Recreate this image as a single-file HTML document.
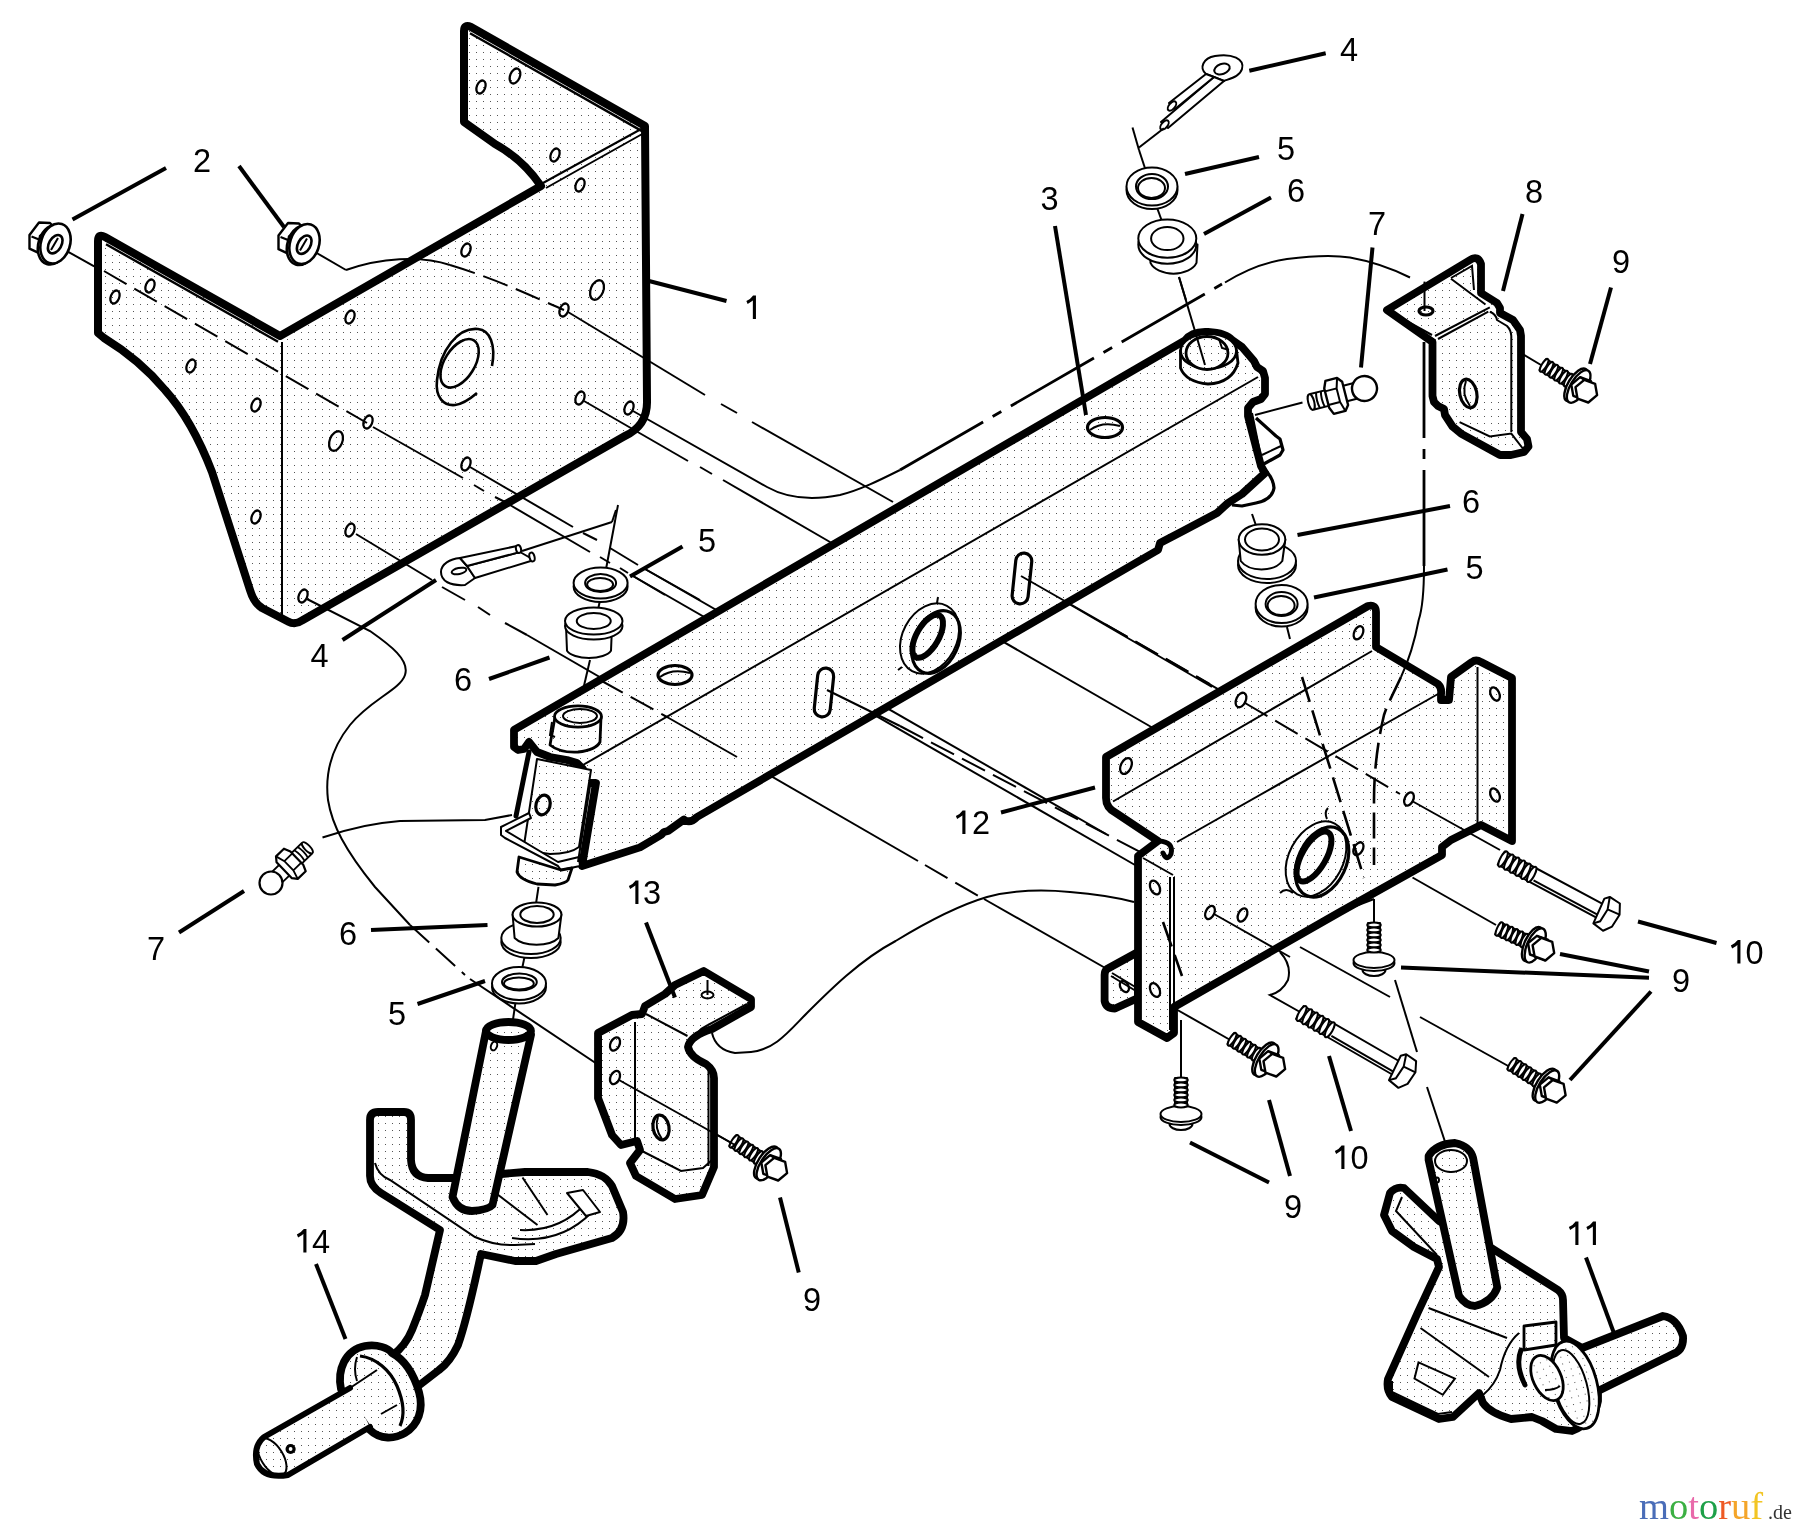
<!DOCTYPE html><html><head><meta charset="utf-8"><style>
*{margin:0;padding:0}
html,body{width:1800px;height:1534px;overflow:hidden;background:#fff}
svg{display:block;will-change:transform}
.K{fill:url(#d);stroke:#000;stroke-width:7.8;stroke-linejoin:round;stroke-linecap:round}
.K1{fill:url(#d);stroke:#000;stroke-width:8;stroke-linejoin:round;stroke-linecap:round}
.Kb{fill:url(#d2);stroke:#000;stroke-width:7.8;stroke-linejoin:round;stroke-linecap:round}
.Kc{fill:url(#d3);stroke:#000;stroke-width:7.8;stroke-linejoin:round;stroke-linecap:round}
.Kw{fill:#fff;stroke:#000;stroke-width:6;stroke-linejoin:round;stroke-linecap:round}
.Kn{fill:none;stroke:#000;stroke-width:6;stroke-linejoin:round;stroke-linecap:round}
.L{fill:none;stroke:#000;stroke-width:4}
.G1{fill:none;stroke:#000;stroke-width:3.1}
.T{fill:none;stroke:#000;stroke-width:2}
.T2{fill:none;stroke:#000;stroke-width:2.6}
.T3{fill:none;stroke:#000;stroke-width:3.2;stroke-linejoin:round}
.Tf3{fill:url(#d);stroke:#000;stroke-width:2.8;stroke-linejoin:round}
.R{fill:none;stroke:#000;stroke-width:6}
.K2{fill:none;stroke:#000;stroke-width:5;stroke-linecap:round}
.H{fill:none;stroke:#000;stroke-width:2.3}
.Tf{fill:url(#d);stroke:#000;stroke-width:2;stroke-linejoin:round}
.W{fill:#fff;stroke:#000;stroke-width:2;stroke-linejoin:round}
.D{fill:none;stroke:#000;stroke-width:2;stroke-dasharray:26 9}
.C{fill:none;stroke:#000;stroke-width:2.8;stroke-dasharray:96 11 10 11}
.C2{fill:none;stroke:#000;stroke-width:2.6;stroke-dasharray:26 9}
text{font-family:"Liberation Sans",sans-serif;font-size:32.5px;fill:#000}
</style></head><body><svg xmlns="http://www.w3.org/2000/svg" width="1800" height="1534" viewBox="0 0 1800 1534">
<defs><pattern id="d" width="7" height="7" patternUnits="userSpaceOnUse"><rect width="7" height="7" fill="#fff"/><rect x="0" y="3" width="1" height="1" fill="#555"/></pattern><pattern id="d2" width="7" height="7" patternUnits="userSpaceOnUse"><rect width="7" height="7" fill="#fff"/><rect x="6" y="2" width="1" height="1" fill="#555"/></pattern><pattern id="d3" width="7" height="7" patternUnits="userSpaceOnUse"><rect width="7" height="7" fill="#fff"/><rect x="5" y="1" width="1" height="1" fill="#555"/></pattern></defs>
<path class="K1" d="M98,333 L98,241 Q98,233 105,237 L280,336 L541,186 C530,170 515,155 495,144 L464,122 L464,31 Q464,24 471,27 L645,126 L647,400 Q648,426 624,436.5 L302,620.5 Q295,625.5 288,621.5 L262,608 Q254,603 250,590 L212,472 Q192,420 165,390 Q140,360 104,338 Z"/>
<line class="T" x1="282" y1="342" x2="282" y2="617"/>
<line class="T" x1="543" y1="183" x2="643" y2="128"/>
<line class="T" x1="546" y1="188" x2="644" y2="133"/>
<path class="T" style="stroke-width:2.4" d="M106,244.2 L278,341.7 M470,33.2 L642,131.1"/>
<ellipse class="H" cx="115" cy="297" rx="4.2" ry="6.8" transform="rotate(22 115 297)"/>
<ellipse class="H" cx="150" cy="286" rx="4.2" ry="6.8" transform="rotate(22 150 286)"/>
<ellipse class="H" cx="191" cy="366" rx="4.2" ry="6.8" transform="rotate(22 191 366)"/>
<ellipse class="H" cx="256" cy="405" rx="4.2" ry="6.8" transform="rotate(22 256 405)"/>
<ellipse class="H" cx="256" cy="517" rx="4.2" ry="6.8" transform="rotate(22 256 517)"/>
<ellipse class="H" cx="481" cy="87" rx="4.2" ry="6.8" transform="rotate(22 481 87)"/>
<ellipse class="H" cx="515" cy="76" rx="4.83" ry="7.819999999999999" transform="rotate(22 515 76)"/>
<ellipse class="H" cx="555" cy="155" rx="4.2" ry="6.8" transform="rotate(22 555 155)"/>
<ellipse class="H" cx="350" cy="317" rx="4.2" ry="6.8" transform="rotate(22 350 317)"/>
<ellipse class="H" cx="580" cy="185" rx="4.2" ry="6.8" transform="rotate(22 580 185)"/>
<ellipse class="H" cx="466" cy="250" rx="4.2" ry="6.8" transform="rotate(22 466 250)"/>
<ellipse class="H" cx="597" cy="290" rx="6.300000000000001" ry="10.2" transform="rotate(22 597 290)"/>
<ellipse class="H" cx="564" cy="310" rx="4.2" ry="6.8" transform="rotate(22 564 310)"/>
<ellipse class="H" cx="368" cy="422" rx="4.2" ry="6.8" transform="rotate(22 368 422)"/>
<ellipse class="H" cx="336" cy="441" rx="6.300000000000001" ry="10.2" transform="rotate(22 336 441)"/>
<ellipse class="H" cx="350" cy="530" rx="4.2" ry="6.8" transform="rotate(22 350 530)"/>
<ellipse class="H" cx="303" cy="596" rx="4.2" ry="6.8" transform="rotate(22 303 596)"/>
<ellipse class="H" cx="580" cy="398" rx="4.2" ry="6.8" transform="rotate(22 580 398)"/>
<ellipse class="H" cx="629" cy="408" rx="4.2" ry="6.8" transform="rotate(22 629 408)"/>
<ellipse class="H" cx="466" cy="464" rx="4.2" ry="6.8" transform="rotate(22 466 464)"/>
<ellipse class="T2" cx="459.6" cy="363.3" rx="27" ry="15" transform="rotate(-58 459.6 363.3)"/>
<path class="T2" d="M492,366 C496,345 490,330 478,329 C458,327 440,350 437,380 C435,398 444,406 455,405 C463,404 470,399 477,393"/>
<line class="T" x1="66.9" y1="251.1" x2="94.2" y2="266.4"/>
<path class="D" d="M104,271 L367,423"/>
<line class="T" x1="315" y1="252" x2="346" y2="270"/>
<path class="T" d="M346,270 C380,258 420,255 450,265"/>
<path class="D" d="M450,265 C500,280 540,300 564,310"/>
<g transform="translate(0,0)"><path class="W" d="M39,222.5 L50,223 L53,226 L40,236 L38,252.6 L29.5,248.7 L29.5,235 Z" style="stroke-width:2.4"/><path class="T" d="M31.5,236.5 L39.6,239.7 L37.5,252"/><ellipse class="W" cx="53" cy="244.5" rx="14.5" ry="20.5" transform="rotate(18 53 244.5)" style="stroke-width:2.6"/><ellipse class="W" cx="55.5" cy="243.5" rx="14.5" ry="20.5" transform="rotate(18 55.5 243.5)" style="stroke-width:2.6"/><ellipse class="W" cx="55.2" cy="244.2" rx="6.2" ry="10" transform="rotate(30 55.2 244.2)" style="stroke-width:2.6"/><path class="T" d="M51,250 L58,238"/></g>
<g transform="translate(249,0.5)"><path class="W" d="M39,222.5 L50,223 L53,226 L40,236 L38,252.6 L29.5,248.7 L29.5,235 Z" style="stroke-width:2.4"/><path class="T" d="M31.5,236.5 L39.6,239.7 L37.5,252"/><ellipse class="W" cx="53" cy="244.5" rx="14.5" ry="20.5" transform="rotate(18 53 244.5)" style="stroke-width:2.6"/><ellipse class="W" cx="55.5" cy="243.5" rx="14.5" ry="20.5" transform="rotate(18 55.5 243.5)" style="stroke-width:2.6"/><ellipse class="W" cx="55.2" cy="244.2" rx="6.2" ry="10" transform="rotate(30 55.2 244.2)" style="stroke-width:2.6"/><path class="T" d="M51,250 L58,238"/></g>
<path class="T" d="M633,576 L1135,865"/>
<path class="T" d="M645,569 L1106,834"/>
<path class="T" d="M527,635 L918,861"/>
<path class="D" d="M925,865 L982,898"/>
<path class="T" d="M984,899 L1107,969"/>
<path class="T" d="M830,542 L1153,728"/>
<path class="T" d="M1064,601 L1212,687"/>
<path class="D" d="M900,726 L1140,852"/>
<path class="T" d="M712,1033 Q716,1050 735,1053 L751,1052 C775,1050 790,1030 807,1013 C830,990 860,960 895.6,941 C930,920 960,905 987,897 C1010,891 1040,889 1070,892 C1095,894 1115,897 1134,902"/>
<path class="T" d="M1300,947 L1390,997"/>
<path class="T" d="M1420,1017 L1510,1067"/>
<path class="T" d="M1395,980 L1417,1052"/>
<path class="T" d="M1427,1087 L1450,1157"/>
<path class="T" d="M307,599 L370,631 C390,645 410,660 405,675 C400,690 370,700 350,725 C330,750 325,775 328,800 C332,825 345,850 375,887 L410,925"/>
<path class="D" d="M410,925 L465,975"/>
<path class="T" d="M470,979 L612,1074"/>
<path class="T" d="M633,411 L767,487 C790,500 815,500 840,495 C860,490 880,480 900,470"/>
<path class="C" d="M900,470 L1222,284"/>
<path class="T" d="M1225,282.5 C1245,270 1265,262 1287,259 C1310,256 1335,255 1350,257.5 C1375,262 1395,270 1410,277.5"/>
<path class="T" d="M568,312 L705,395"/>
<path class="T" d="M721,404 L737,413"/>
<path class="T" d="M752,422 L893,502"/>
<path class="T" d="M584,401 L688,461"/>
<path class="T" d="M700,467 L712,474"/>
<path class="T" d="M723,480 L830,542"/>
<path class="T" d="M373,427 L463,478"/>
<path class="T" d="M474,485 L484,491"/>
<path class="T" d="M495,497 L507,503"/>
<path class="T" d="M510,505 L590,552"/>
<path class="T" d="M600,557 L610,563"/>
<path class="T" d="M620,568 L628,573"/>
<path class="T" d="M633,576 L665,595"/>
<path class="T" d="M470,467 L573,527"/>
<path class="T" d="M583,533 L597,540"/>
<path class="T" d="M610,548 L638,565"/>
<path class="T" d="M645,569 L700,600"/>
<path class="T" d="M356,534 L432,580"/>
<path class="T" d="M442,587 L465,600"/>
<path class="T" d="M478,607 L490,615"/>
<path class="T" d="M505,623 L527,635"/>
<path class="Kb" d="M514,729.8 L1185,340.4 Q1192,331 1208,332 Q1226,333 1232,340 L1242,347 L1254,361 L1257,367 L1263,371 L1265,378 L1265,394 L1261,399 L1253,402 L1248,408 L1248,416 L1250,424 L1261,466 L1265,473 L1242,494 L1228,503 L1217,513 L1183,531 L1160,543 L1158,550 L697,817 Q690,824 684,819.5 L668,831 L664,832 L661,835 L640,847.4 L582,866 L596,783 L587,783 L583,780 L583,769 L577,763 L567,760 L550,757 L537,752 L529,742 L524,749 L518,750 L514,747 Z"/>
<line class="T" x1="583" y1="765" x2="1258" y2="377"/>
<line class="T" x1="1252" y1="413" x2="1262" y2="462"/>
<path class="T3" d="M1262,467 Q1273,476 1274,488 Q1272,500 1256,503 L1242,506 L1232,505"/>
<path class="T3" d="M1256,418 L1276,436 L1280,439 L1283,450 L1280,455 L1262,465"/>
<path class="T" d="M1262,455 L1281,446"/>
<path class="Tf3" d="M1180.5,351 L1180.5,368 Q1186,382 1208,384 Q1232,383 1238,363 L1236.6,351 Z"/>
<ellipse class="Tf3" cx="1208.5" cy="351" rx="28" ry="17.5"/>
<ellipse class="Tf3" cx="1207" cy="353" rx="21" ry="16.5"/>
<path class="T" d="M1219,339 L1222,348 L1229,350"/>
<ellipse class="T3" cx="675" cy="675" rx="17" ry="9.5"/>
<path class="T" d="M660,677 Q672,668 690,673"/>
<ellipse class="T3" cx="1105" cy="427.5" rx="17.5" ry="10"/>
<path class="T" d="M1090,430 Q1102,421 1120,426"/>
<rect class="T3" x="816" y="668" width="16" height="49" rx="8" transform="rotate(6 824 692)" style="fill:none"/>
<rect class="T3" x="1014" y="553" width="16" height="51" rx="8" transform="rotate(6 1022 578)" style="fill:none"/>
<ellipse class="T" cx="929.5" cy="638.5" rx="27" ry="37" transform="rotate(28 929.5 638.5)"/>
<ellipse class="T3" cx="936" cy="642" rx="22" ry="33" transform="rotate(25 936 642)"/>
<ellipse class="R" cx="927.7" cy="636.3" rx="11" ry="24" transform="rotate(30 927.7 636.3)"/>
<path class="T" d="M937,603 L938,597"/>
<path class="T" d="M902,667 L898,670"/>
<path class="T" d="M1021,576 L1105,624"/>
<path class="D" d="M1105,624 L1210,684"/>
<path class="T" d="M827,690 L900,726"/>
<path class="Tf" d="M537,759 L524.5,842 Q532,852 550,854 Q570,854 579,847 L591,770 Z"/>
<path class="K2" d="M529,752 L516,816"/>
<path class="W" d="M501,827 L529,813 L531,818 L506,831 L558,862 L579,857 L580,866 L561,870 L558,866 L505,838 L501,835 Z"/>
<path class="Tf3" d="M519,857 L517,872 Q520,880 537,884 L555,885 Q566,883 568,880 L572,868 L561,870 Z"/>
<ellipse class="T3" cx="543" cy="805" rx="7" ry="10" transform="rotate(15 543 805)"/>
<line class="T" x1="590" y1="786" x2="578" y2="862"/>
<path class="Tf3" d="M555,717 L550,745 Q560,753 578,752 Q596,750 600,742 L601,717 Z"/>
<ellipse class="Tf3" cx="578" cy="716.5" rx="23.5" ry="10.7"/>
<ellipse class="T" cx="580" cy="716" rx="17" ry="7"/>
<path class="T" d="M552,722 L550,735 L555,737"/>
<path class="D" d="M600,680 L667,717"/>
<path class="T" d="M667,717 L737,757"/>
<line class="T" x1="1179" y1="277" x2="1205" y2="365"/>
<path class="D" d="M1105,624 L1280,725"/>
<path class="K" d="M1138,952 L1107,969 Q1104.6,971 1104.6,975 L1104.6,1001 Q1106,1008.5 1115,1008.5 L1138,998 Z"/>
<line class="T" x1="1112" y1="973" x2="1137" y2="988"/>
<line class="T" x1="1111" y1="976" x2="1136" y2="991"/>
<ellipse class="H" cx="1124.4" cy="986.5" rx="4" ry="6" transform="rotate(-30 1124.4 986.5)"/>
<path class="Kc" d="M1106,757 L1368,606 Q1376,604 1376,612 L1376,647 L1438,684 Q1442,688 1441,694 L1441,700 L1449,700 L1451,677 L1472,662 Q1476,659 1481,662 L1512,678 L1512,841 L1481,825 L1451,840 L1442,847 L1442,855 L1340,912 L1174,1007 L1174,1033 L1167,1038 L1138,1022 L1138,856 L1158,841 L1116,813 Q1106,808 1106,798 Z"/>
<line class="T" x1="1113" y1="801.5" x2="1372" y2="651"/>
<line class="T" x1="1177" y1="842" x2="1438" y2="694"/>
<line class="T" x1="1477.5" y1="667" x2="1477.5" y2="824"/>
<line class="T" x1="1143" y1="858" x2="1173" y2="875"/>
<line class="T" x1="1170" y1="877" x2="1170" y2="1030"/>
<line class="T" x1="1174" y1="877" x2="1174" y2="1007"/>
<path class="K2" d="M1159,841 Q1174,842 1171,854 Q1167,862 1163,853"/>
<ellipse class="H" cx="1126" cy="766" rx="5.159999999999999" ry="8.4" transform="rotate(25 1126 766)"/>
<ellipse class="H" cx="1241" cy="700" rx="4.73" ry="7.700000000000001" transform="rotate(25 1241 700)"/>
<ellipse class="H" cx="1155" cy="887.5" rx="4.515" ry="7.3500000000000005" transform="rotate(-25 1155 887.5)"/>
<ellipse class="H" cx="1155" cy="990" rx="4.515" ry="7.3500000000000005" transform="rotate(-25 1155 990)"/>
<ellipse class="H" cx="1210" cy="912.5" rx="4.3" ry="7" transform="rotate(25 1210 912.5)"/>
<ellipse class="H" cx="1242.5" cy="915" rx="4.3" ry="7" transform="rotate(25 1242.5 915)"/>
<ellipse class="H" cx="1495" cy="694" rx="4.3" ry="7" transform="rotate(-25 1495 694)"/>
<ellipse class="H" cx="1495" cy="795" rx="4.3" ry="7" transform="rotate(-25 1495 795)"/>
<ellipse class="H" cx="1409" cy="799" rx="4.3" ry="7" transform="rotate(25 1409 799)"/>
<ellipse class="H" cx="1358.5" cy="632.8" rx="4.3" ry="7" transform="rotate(25 1358.5 632.8)"/>
<ellipse class="H" cx="1358.4" cy="848.7" rx="4.3" ry="7" transform="rotate(30 1358.4 848.7)"/>
<ellipse class="T" cx="1316" cy="859" rx="27" ry="40" transform="rotate(28 1316 859)"/>
<ellipse class="T3" cx="1322" cy="862" rx="24" ry="37" transform="rotate(25 1322 862)"/>
<ellipse class="R" cx="1314" cy="856.5" rx="12" ry="28" transform="rotate(30 1314 856.5)"/>
<path class="T" d="M1327,819 Q1324,812 1328,808"/>
<path class="T" d="M1280,893 Q1286,887 1293,893"/>
<path class="C2" d="M1302,677 L1364,878"/>
<path class="C" d="M1424,342 L1424,566"/>
<path class="T" d="M1424,566 C1424,595 1422,610 1418.7,620 C1414,645 1408,662 1401,677"/>
<path class="C2" d="M1401,677 C1395,690 1388,703 1384,715 C1378,740 1374,770 1374,800 L1374,865"/>
<line class="T" x1="1412" y1="801" x2="1500" y2="850"/>
<path class="T" d="M1340,912 L1374,899"/>
<path class="T" d="M1214,914 L1290,957"/>
<path class="C2" d="M1163,922 L1182,976"/>
<path class="D" d="M1245,703 L1400,794"/>
<line class="T" x1="1412.5" y1="877.5" x2="1496" y2="925"/>
<path class="K" d="M1387,310 L1470,260 Q1478,255 1481,264 L1481,293 L1497,303 L1500,308 L1500,313 L1513,320 L1520,330 L1521,336 L1521,432 L1527,439 L1528.5,446.6 L1524,452 L1511,455 L1500,455 L1461,433.6 L1452.5,426.5 L1445,415 L1444,409 L1438,406 L1434,402 L1432.5,396 L1432.5,342 Z"/>
<line class="T" x1="1435" y1="336" x2="1489.8" y2="307.4"/>
<line class="T" x1="1438" y1="339" x2="1488.3" y2="311.7"/>
<line class="T" x1="1393.7" y1="314" x2="1432" y2="335"/>
<path class="T" d="M1451,278.7 L1485.5,304.5"/>
<path class="T" d="M1451,278 L1472,266 L1474,290"/>
<path class="T" d="M1489.8,311.7 Q1496,314 1497,320 L1507,326 Q1511,330 1511.3,336 L1511.3,432"/>
<path class="T" d="M1459.6,422.2 L1489.8,436.5 L1511.3,433.6 L1524,450"/>
<ellipse class="T3" cx="1468.3" cy="393.5" rx="8.5" ry="14.5" transform="rotate(-12 1468.3 393.5)"/>
<path class="T" d="M1466,381 Q1461,394 1470,406"/>
<ellipse class="T3" cx="1426" cy="311" rx="7" ry="4"/>
<line class="T" x1="1424.5" y1="281.6" x2="1424.5" y2="311"/>
<line class="T" x1="1139" y1="150" x2="1151" y2="186.5"/>
<line class="T" x1="1157.5" y1="209" x2="1171" y2="246"/>
<line class="T" x1="1179" y1="277" x2="1186" y2="300"/>
<line class="T" x1="618" y1="505" x2="604" y2="580"/>
<line class="T" x1="600" y1="600" x2="596" y2="620"/>
<line class="T" x1="590" y1="660" x2="583" y2="690"/>
<line class="T" x1="1252" y1="514" x2="1261" y2="540"/>
<line class="T" x1="1287" y1="627" x2="1290" y2="639"/>
<line class="T" x1="538.5" y1="886.8" x2="534" y2="917"/>
<line class="T" x1="525" y1="954.6" x2="521.5" y2="971.5"/>
<line class="T" x1="519.8" y1="973.2" x2="510" y2="1040"/>
<ellipse class="W" cx="1152" cy="190.0" rx="25.5" ry="19"/>
<ellipse class="W" cx="1152" cy="186.5" rx="25.5" ry="19"/>
<ellipse class="W" cx="1152" cy="186.5" rx="16" ry="12.5"/>
<ellipse class="T" cx="1151.5" cy="188.0" rx="13.5" ry="10.0"/>
<path class="W" d="M1149.5,244.6 L1150.5,262.9048275862069 A24,15.095172413793101 0 0 0 1196.5,262.9048275862069 L1197.5,244.6 Z"/>
<ellipse class="W" cx="1167.3" cy="244.6" rx="29" ry="19.2"/>
<ellipse class="W" cx="1167.3" cy="238.6" rx="29" ry="19.2"/>
<ellipse class="W" cx="1167.3" cy="238.6" rx="16.2" ry="11.5"/>
<ellipse class="W" cx="600.6" cy="586.5" rx="27" ry="15.5"/>
<ellipse class="W" cx="600.6" cy="583" rx="27" ry="15.5"/>
<ellipse class="W" cx="600.6" cy="583" rx="15.5" ry="9"/>
<ellipse class="T" cx="600.1" cy="584.5" rx="13.0" ry="6.5"/>
<path class="W" d="M566,626 L567,650.74 A23,10.26 0 0 0 611,650.74 L612,626 Z"/>
<ellipse class="W" cx="593.75" cy="626" rx="28.75" ry="13.5"/>
<ellipse class="W" cx="593.75" cy="621" rx="28.75" ry="13.5"/>
<ellipse class="W" cx="593.75" cy="621" rx="17" ry="8"/>
<ellipse class="W" cx="1267" cy="565" rx="29" ry="18"/>
<ellipse class="W" cx="1267" cy="561" rx="29" ry="18"/>
<path class="W" d="M1238.7,539.5 L1240.7,561 A23.3,15.3 0 0 0 1282.3,561 L1285.3,539.5 Z"/>
<ellipse class="W" cx="1262" cy="539.5" rx="23.3" ry="15.3"/>
<ellipse class="W" cx="1262" cy="539.5" rx="17" ry="11"/>
<ellipse class="W" cx="1281.6" cy="607.5" rx="26" ry="19"/>
<ellipse class="W" cx="1281.6" cy="604" rx="26" ry="19"/>
<ellipse class="W" cx="1281.6" cy="604" rx="16" ry="12"/>
<ellipse class="T" cx="1281.1" cy="605.5" rx="13.5" ry="9.5"/>
<ellipse class="W" cx="531" cy="942" rx="29.7" ry="16"/>
<ellipse class="W" cx="531" cy="938" rx="29.7" ry="16"/>
<path class="W" d="M512.6,914.5 L514.6,938 A24.4,12 0 0 0 558.4,938 L561.4,914.5 Z"/>
<ellipse class="W" cx="537" cy="914.5" rx="24.4" ry="12"/>
<ellipse class="W" cx="537" cy="914.5" rx="16.7" ry="8.5"/>
<ellipse class="W" cx="519" cy="987.0" rx="27" ry="16.5"/>
<ellipse class="W" cx="519" cy="983.5" rx="27" ry="16.5"/>
<ellipse class="W" cx="519.4" cy="982" rx="17.4" ry="8.5"/>
<ellipse class="T" cx="518.9" cy="983.5" rx="14.899999999999999" ry="6.0"/>
<path class="W" d="M1206,74 C1199,68 1203,58 1215,56 C1232,53 1245,59 1242,69 C1240,76 1232,78 1224,81 L1214,77 Z"/>
<ellipse class="T" cx="1222" cy="69" rx="8" ry="5" transform="rotate(-20 1222 69)"/>
<polygon class="W" points="1214,77 1224,81 1168,128 1161,122"/>
<polygon class="W" points="1206,74 1214,77 1175,109 1169,103"/>
<ellipse class="W" cx="1172" cy="106" rx="3" ry="5.5" transform="rotate(40 1172 106)"/>
<ellipse class="W" cx="1164.5" cy="125" rx="3" ry="5.5" transform="rotate(40 1164.5 125)"/>
<line class="T" x1="1163.9" y1="128.3" x2="1139" y2="147.5"/>
<line class="T" x1="1132.5" y1="127.5" x2="1139" y2="150"/>
<path class="W" d="M460,558 C450,559 441,564 441,572 C441,581 450,586 465,585 L475,578 L467,566 Z"/>
<ellipse class="T" cx="459" cy="571" rx="7.5" ry="3" transform="rotate(-12 459 571)"/>
<polygon class="W" points="467,566 520,552 534,560 475,578"/>
<polygon class="W" points="460,558 517,546 520,552 467,566"/>
<ellipse class="W" cx="518.5" cy="549" rx="2.5" ry="4" transform="rotate(-15 518.5 549)"/>
<ellipse class="W" cx="532" cy="557" rx="2.5" ry="4.5" transform="rotate(-15 532 557)"/>
<line class="T" x1="522" y1="551" x2="612" y2="522"/>
<line class="T" x1="612" y1="522" x2="616" y2="510"/>
<line class="T" x1="1255" y1="415" x2="1302.5" y2="402.5"/>
<g transform="translate(1364.5,388.5) rotate(165.7) scale(1.0)"><path class="W" d="M38,-8 L54,-8 L54,8 L38,8 Z"/><ellipse class="W" cx="55" cy="0" rx="3" ry="8"/><path class="T" d="M43,-8 Q45,0 43,8 M48,-8 Q50,0 48,8"/><path class="W" d="M6,-8 L22,-8 L22,8 L6,8 Z"/><path class="W" d="M20,-12 L24,-17 L36,-17 L39,-10 L39,10 L36,17 L24,17 L20,12 Z" style="stroke-width:2.4"/><path class="T" d="M24,-17 L27,-7 L27,7 L24,17 M27,-7 L39,-7 M27,7 L39,7"/><circle class="W" cx="0" cy="0" r="12.5" style="stroke-width:2.4"/></g>
<g transform="translate(271,883) rotate(-44) scale(0.92)"><path class="W" d="M38,-8 L54,-8 L54,8 L38,8 Z"/><ellipse class="W" cx="55" cy="0" rx="3" ry="8"/><path class="T" d="M43,-8 Q45,0 43,8 M48,-8 Q50,0 48,8"/><path class="W" d="M6,-8 L22,-8 L22,8 L6,8 Z"/><path class="W" d="M20,-12 L24,-17 L36,-17 L39,-10 L39,10 L36,17 L24,17 L20,12 Z" style="stroke-width:2.4"/><path class="T" d="M24,-17 L27,-7 L27,7 L24,17 M27,-7 L39,-7 M27,7 L39,7"/><circle class="W" cx="0" cy="0" r="12.5" style="stroke-width:2.4"/></g>
<path class="T" d="M322.5,837.5 C345,830 370,823 400,821 L485,820 L512,815"/>
<line class="T" x1="1522.5" y1="354" x2="1546" y2="368"/>
<line class="T" x1="735" y1="1145" x2="700" y2="1125"/>
<line class="T" x1="1374" y1="899" x2="1374" y2="925"/>
<line class="T" x1="1181" y1="1020" x2="1181" y2="1077"/>
<line class="T" x1="1174" y1="1008" x2="1232" y2="1041"/>
<path class="T" d="M1280,952 Q1292,965 1288,980 Q1282,992 1270,995 L1300,1012"/>
<g transform="translate(1542,364) rotate(31.5)"><path class="W" d="M1,-6.5 L38,-6.5 L38,6.5 L1,6.5 Z"/><ellipse class="W" cx="2.5" cy="0" rx="2.4" ry="7.3"/><ellipse class="W" cx="8.2" cy="0" rx="2.4" ry="7.3"/><ellipse class="W" cx="13.8" cy="0" rx="2.4" ry="7.3"/><ellipse class="W" cx="19.5" cy="0" rx="2.4" ry="7.3"/><ellipse class="W" cx="25.2" cy="0" rx="2.4" ry="7.3"/><ellipse class="W" cx="30.8" cy="0" rx="2.4" ry="7.3"/><ellipse class="W" cx="40.0" cy="0" rx="8" ry="18.5" style="stroke-width:2.4"/><ellipse class="W" cx="43.0" cy="0" rx="8" ry="18.5" style="stroke-width:2.4"/></g>
<polygon class="W" points="1580.1,377.2 1590.9,381.2 1592.9,392.5 1584.1,399.9 1573.3,395.9 1571.3,384.6" style="stroke-width:2.4"/>
<line class="T" x1="1580.1" y1="377.2" x2="1584.3" y2="379.8"/>
<line class="T" x1="1584.1" y1="399.9" x2="1588.3" y2="402.5"/>
<polygon class="W" points="1584.3,379.8 1595.1,383.8 1597.1,395.1 1588.3,402.5 1577.5,398.6 1575.5,387.2" style="stroke-width:2.4"/>
<g transform="translate(732,1140) rotate(33.4)"><path class="W" d="M1,-6.5 L39,-6.5 L39,6.5 L1,6.5 Z"/><ellipse class="W" cx="2.5" cy="0" rx="2.4" ry="7.3"/><ellipse class="W" cx="8.3" cy="0" rx="2.4" ry="7.3"/><ellipse class="W" cx="14.2" cy="0" rx="2.4" ry="7.3"/><ellipse class="W" cx="20.0" cy="0" rx="2.4" ry="7.3"/><ellipse class="W" cx="25.8" cy="0" rx="2.4" ry="7.3"/><ellipse class="W" cx="31.7" cy="0" rx="2.4" ry="7.3"/><ellipse class="W" cx="41.0" cy="0" rx="8" ry="18.5" style="stroke-width:2.4"/><ellipse class="W" cx="44.0" cy="0" rx="8" ry="18.5" style="stroke-width:2.4"/></g>
<polygon class="W" points="770.1,1155.1 780.9,1159.0 782.9,1170.4 774.1,1177.7 763.3,1173.8 761.3,1162.5" style="stroke-width:2.4"/>
<line class="T" x1="770.1" y1="1155.1" x2="774.2" y2="1157.9"/>
<line class="T" x1="774.1" y1="1177.7" x2="778.2" y2="1180.5"/>
<polygon class="W" points="774.2,1157.9 785.1,1161.8 787.1,1173.1 778.2,1180.5 767.4,1176.6 765.4,1165.2" style="stroke-width:2.4"/>
<g transform="translate(1497,928) rotate(24.5)"><path class="W" d="M1,-6.5 L37,-6.5 L37,6.5 L1,6.5 Z"/><ellipse class="W" cx="2.5" cy="0" rx="2.4" ry="7.3"/><ellipse class="W" cx="8.0" cy="0" rx="2.4" ry="7.3"/><ellipse class="W" cx="13.5" cy="0" rx="2.4" ry="7.3"/><ellipse class="W" cx="19.0" cy="0" rx="2.4" ry="7.3"/><ellipse class="W" cx="24.5" cy="0" rx="2.4" ry="7.3"/><ellipse class="W" cx="30.0" cy="0" rx="2.4" ry="7.3"/><ellipse class="W" cx="39.0" cy="0" rx="8" ry="18.5" style="stroke-width:2.4"/><ellipse class="W" cx="42.0" cy="0" rx="8" ry="18.5" style="stroke-width:2.4"/></g>
<polygon class="W" points="1536.9,935.8 1547.7,939.7 1549.7,951.0 1540.9,958.4 1530.0,954.5 1528.1,943.1" style="stroke-width:2.4"/>
<line class="T" x1="1536.9" y1="935.8" x2="1541.4" y2="937.8"/>
<line class="T" x1="1540.9" y1="958.4" x2="1545.4" y2="960.5"/>
<polygon class="W" points="1541.4,937.8 1552.2,941.8 1554.2,953.1 1545.4,960.5 1534.6,956.5 1532.6,945.2" style="stroke-width:2.4"/>
<g transform="translate(1230,1038) rotate(31.5)"><path class="W" d="M1,-6.5 L38,-6.5 L38,6.5 L1,6.5 Z"/><ellipse class="W" cx="2.5" cy="0" rx="2.4" ry="7.3"/><ellipse class="W" cx="8.2" cy="0" rx="2.4" ry="7.3"/><ellipse class="W" cx="13.8" cy="0" rx="2.4" ry="7.3"/><ellipse class="W" cx="19.5" cy="0" rx="2.4" ry="7.3"/><ellipse class="W" cx="25.2" cy="0" rx="2.4" ry="7.3"/><ellipse class="W" cx="30.8" cy="0" rx="2.4" ry="7.3"/><ellipse class="W" cx="40.0" cy="0" rx="8" ry="18.5" style="stroke-width:2.4"/><ellipse class="W" cx="43.0" cy="0" rx="8" ry="18.5" style="stroke-width:2.4"/></g>
<polygon class="W" points="1268.1,1051.2 1278.9,1055.2 1280.9,1066.5 1272.1,1073.9 1261.3,1069.9 1259.3,1058.6" style="stroke-width:2.4"/>
<line class="T" x1="1268.1" y1="1051.2" x2="1272.3" y2="1053.8"/>
<line class="T" x1="1272.1" y1="1073.9" x2="1276.3" y2="1076.5"/>
<polygon class="W" points="1272.3,1053.8 1283.1,1057.8 1285.1,1069.1 1276.3,1076.5 1265.5,1072.6 1263.5,1061.2" style="stroke-width:2.4"/>
<g transform="translate(1510,1063) rotate(32.3)"><path class="W" d="M1,-6.5 L39,-6.5 L39,6.5 L1,6.5 Z"/><ellipse class="W" cx="2.5" cy="0" rx="2.4" ry="7.3"/><ellipse class="W" cx="8.3" cy="0" rx="2.4" ry="7.3"/><ellipse class="W" cx="14.2" cy="0" rx="2.4" ry="7.3"/><ellipse class="W" cx="20.0" cy="0" rx="2.4" ry="7.3"/><ellipse class="W" cx="25.8" cy="0" rx="2.4" ry="7.3"/><ellipse class="W" cx="31.7" cy="0" rx="2.4" ry="7.3"/><ellipse class="W" cx="41.0" cy="0" rx="8" ry="18.5" style="stroke-width:2.4"/><ellipse class="W" cx="44.0" cy="0" rx="8" ry="18.5" style="stroke-width:2.4"/></g>
<polygon class="W" points="1548.6,1077.3 1559.4,1081.3 1561.4,1092.6 1552.6,1100.0 1541.8,1096.0 1539.8,1084.7" style="stroke-width:2.4"/>
<line class="T" x1="1548.6" y1="1077.3" x2="1552.8" y2="1080.0"/>
<line class="T" x1="1552.6" y1="1100.0" x2="1556.8" y2="1102.6"/>
<polygon class="W" points="1552.8,1080.0 1563.6,1083.9 1565.6,1095.3 1556.8,1102.6 1546.0,1098.7 1544.0,1087.4" style="stroke-width:2.4"/>
<g transform="translate(1500.4,857.6) rotate(28.2)"><path class="W" d="M1,-7.5 L114,-7.5 L114,7.5 L1,7.5 Z"/><path class="T" d="M40,4.5 L112,4.5"/><ellipse class="W" cx="3.0" cy="0" rx="2.8" ry="8.5"/><ellipse class="W" cx="9.5" cy="0" rx="2.8" ry="8.5"/><ellipse class="W" cx="16.0" cy="0" rx="2.8" ry="8.5"/><ellipse class="W" cx="22.5" cy="0" rx="2.8" ry="8.5"/><ellipse class="W" cx="29.0" cy="0" rx="2.8" ry="8.5"/><ellipse class="W" cx="35.5" cy="0" rx="2.8" ry="8.5"/><polygon class="W" points="111.0,-13.0 115.0,-17.0 127.0,-16.0 132.0,-6.0 131.0,8.0 125.0,16.0 113.0,14.0"/><path class="T" d="M115,-17 L119,-5 L118,9 L113,14 M119,-5 L132,-6"/></g>
<g transform="translate(1299,1012) rotate(30)"><path class="W" d="M1,-7.5 L113,-7.5 L113,7.5 L1,7.5 Z"/><path class="T" d="M40,4.5 L111,4.5"/><ellipse class="W" cx="3.0" cy="0" rx="2.8" ry="8.5"/><ellipse class="W" cx="9.5" cy="0" rx="2.8" ry="8.5"/><ellipse class="W" cx="16.0" cy="0" rx="2.8" ry="8.5"/><ellipse class="W" cx="22.5" cy="0" rx="2.8" ry="8.5"/><ellipse class="W" cx="29.0" cy="0" rx="2.8" ry="8.5"/><ellipse class="W" cx="35.5" cy="0" rx="2.8" ry="8.5"/><polygon class="W" points="110.0,-13.0 114.0,-17.0 126.0,-16.0 131.0,-6.0 130.0,8.0 124.0,16.0 112.0,14.0"/><path class="T" d="M114,-17 L118,-5 L117,9 L112,14 M118,-5 L131,-6"/></g>
<g><path class="W" d="M1368,923 L1368,960 L1380,960 L1380,923 Z"/><ellipse class="W" cx="1374" cy="970" rx="11.5" ry="6"/><path class="W" d="M1364,963 L1364,970 L1384,970 L1384,963 Z"/><ellipse class="W" cx="1374" cy="963" rx="20.5" ry="8"/><ellipse class="W" cx="1374" cy="960" rx="20.5" ry="8"/><ellipse class="W" cx="1374" cy="925" rx="6.8" ry="2.4"/><ellipse class="W" cx="1374" cy="930" rx="6.8" ry="2.4"/><ellipse class="W" cx="1374" cy="935" rx="6.8" ry="2.4"/><ellipse class="W" cx="1374" cy="940" rx="6.8" ry="2.4"/><ellipse class="W" cx="1374" cy="945" rx="6.8" ry="2.4"/><ellipse class="W" cx="1374" cy="950" rx="6.8" ry="2.4"/></g>
<g><path class="W" d="M1175,1078 L1175,1114 L1187,1114 L1187,1078 Z"/><ellipse class="W" cx="1181" cy="1124" rx="11.5" ry="6"/><path class="W" d="M1171,1117 L1171,1124 L1191,1124 L1191,1117 Z"/><ellipse class="W" cx="1181" cy="1117" rx="20.5" ry="8"/><ellipse class="W" cx="1181" cy="1114" rx="20.5" ry="8"/><ellipse class="W" cx="1181" cy="1080" rx="6.8" ry="2.4"/><ellipse class="W" cx="1181" cy="1085" rx="6.8" ry="2.4"/><ellipse class="W" cx="1181" cy="1090" rx="6.8" ry="2.4"/><ellipse class="W" cx="1181" cy="1095" rx="6.8" ry="2.4"/><ellipse class="W" cx="1181" cy="1100" rx="6.8" ry="2.4"/><ellipse class="W" cx="1181" cy="1105" rx="6.8" ry="2.4"/></g>
<path class="K" d="M703.75,971 L751,999 L751,1007 L712,1029 Q690,1036 688,1047 Q690,1057 706,1064 Q714,1070 714,1078 L714,1167 L702,1195 L675,1199 L636,1176 L630,1163 L640,1150 L637,1141 L621,1145 L612,1135 L598,1098 L598,1033 L632,1015 L642,1014 L645,1006 L665,994 L675,985 Z"/>
<line class="T" x1="635" y1="1022" x2="635" y2="1138"/>
<line class="T" x1="646" y1="1014" x2="687.5" y2="1036"/>
<path class="T" d="M747,1004 L708,1025 Q695,1031 692,1044"/>
<line class="T" x1="708.5" y1="1070" x2="708.5" y2="1166"/>
<line class="T" x1="601" y1="1036" x2="601" y2="1096"/>
<path class="T" d="M640,1150 L681,1171 L703,1168 L712,1160"/>
<ellipse class="H" cx="615" cy="1044" rx="4.5" ry="7" transform="rotate(25 615 1044)"/>
<ellipse class="H" cx="615" cy="1077.5" rx="4.5" ry="7" transform="rotate(25 615 1077.5)"/>
<ellipse class="T3" cx="661" cy="1127.5" rx="8" ry="12.5" transform="rotate(-10 661 1127.5)"/>
<path class="T" d="M658,1117 Q654,1128 662,1139"/>
<ellipse class="T" cx="707.5" cy="995" rx="6" ry="3.5"/>
<line class="T" x1="707.5" y1="980" x2="707.5" y2="995"/>
<line class="T" x1="619" y1="1080" x2="735" y2="1145"/>
<path class="K" d="M370,1120 Q370,1112 378,1112 L404,1112 Q411,1112 411,1120 L411,1160 Q412,1177 428,1178 L455,1178 L525,1172 L588,1172 Q605,1174 612,1186 L623,1212 Q626,1230 612,1238 L556,1254 L536,1261 L515,1261 L481,1254 C473,1290 467,1320 458,1345 Q450,1362 439,1370 L417,1387 L392,1356 Q406,1345 412,1330 Q420,1310 425,1295 L440,1230 L381,1193 Q370,1186 370,1176 Z"/>
<path class="T" d="M375,1163 Q378,1175 390,1180 L475,1237 Q495,1246 515,1245 L535,1244"/>
<path class="T" d="M520,1230 Q560,1232 586,1203"/>
<path class="T" d="M512,1238 Q560,1245 592,1212"/>
<polygon class="W" points="567,1193 583,1190 600,1212 586,1216"/>
<line class="T" x1="495" y1="1192.5" x2="537.5" y2="1225"/>
<line class="T" x1="522.5" y1="1177.5" x2="547.5" y2="1215"/>
<path class="T" d="M555,1254 L610,1240"/>
<path class="K" d="M341,1389 C337,1370 345,1350 365,1346 C378,1344 388,1348 392,1353 C405,1360 414,1375 419,1392 C424,1410 418,1425 405,1433 C395,1439 380,1440 370,1430 L366,1426 Z"/>
<path class="T3" d="M360,1356 C376,1358 390,1370 397,1386 C403,1400 405,1415 400,1426"/>
<path class="T" d="M357,1357 C354,1366 355,1375 357,1381"/>
<path style="fill:url(#d);stroke:none" d="M350,1388 L264,1437 Q253,1446 257,1464 Q264,1479 288,1475 L370,1427 Z"/>
<path class="Kn" d="M350,1388 L264,1437 Q253,1446 257,1464 Q264,1479 288,1475 L370,1427"/>
<ellipse class="T" cx="272" cy="1457" rx="11" ry="21" transform="rotate(-32 272 1457)"/>
<ellipse class="T3" cx="290.6" cy="1449" rx="3.5" ry="3.5"/>
<path class="T" d="M350,1388 L377,1370 M381,1414 L397,1405"/>
<path class="K" d="M486,1031 L452.5,1197 Q458,1211 472,1211 Q488,1210 492.5,1205 L531,1035 Z"/>
<ellipse class="K" cx="508.5" cy="1031" rx="22.5" ry="9"/>
<ellipse class="T" cx="494" cy="1046" rx="3" ry="4.5" transform="rotate(20 494 1046)"/>
<path class="K" d="M1384,1215 L1390,1193 Q1396,1186 1404,1188 L1439,1221 L1493,1249 L1558,1290 Q1563,1294 1563,1300 L1564,1338 L1582,1348 L1663,1316 Q1677,1318 1683,1336 Q1684,1350 1673,1354 L1598,1391 L1598,1401 Q1594,1422 1572,1431 L1556,1429 L1542,1421 L1532,1417 L1511,1419 Q1490,1413 1483,1403 L1479,1393 L1453,1417 L1439,1419 L1392,1397 Q1386,1390 1388,1379 L1418,1312 L1439,1267 L1437,1259 L1414,1247 L1392,1231 Z"/>
<path class="T" d="M1402,1197 L1396,1211 L1437,1255"/>
<path class="T" d="M1428.6,1308 L1507,1338"/>
<path class="T" d="M1420.5,1328 L1489,1377"/>
<path class="T" d="M1392,1381 L1392,1392 L1438,1414 L1452,1412"/>
<polygon class="T" points="1418.5,1362.4 1454.9,1378.6 1442.8,1394.8 1414.5,1378.6"/>
<path class="Tf3" d="M1524,1326 L1556,1322 L1556,1345 L1524,1350 Z"/>
<path class="T" d="M1519,1333 Q1505,1345 1500,1370 Q1495,1385 1483,1395"/>
<ellipse class="Tf3" cx="1575" cy="1385" rx="22" ry="45" transform="rotate(-15 1575 1385)"/>
<ellipse class="T" cx="1571" cy="1387" rx="16" ry="38" transform="rotate(-15 1571 1387)"/>
<ellipse class="Tf3" cx="1547" cy="1378" rx="14" ry="24" transform="rotate(-25 1547 1378)"/>
<path class="K2" d="M1521,1350 Q1515,1365 1525,1385"/>
<path class="T" d="M1545,1390 Q1555,1390 1560,1386"/>
<path class="K" d="M1428.6,1160 L1458.9,1295.7 Q1466,1306 1475,1306 Q1492,1302 1497.3,1287.6 L1473.1,1158 Q1470,1146 1455,1143 Q1436,1144 1428.6,1156 Z"/>
<ellipse class="T" cx="1451" cy="1161" rx="16" ry="11"/>
<ellipse class="T" cx="1437" cy="1180" rx="2" ry="2.5"/>
<text x="1639" y="1519" style="font-family:'Liberation Serif',serif;font-size:38.5px"><tspan fill="#4a6db8">m</tspan><tspan fill="#3cb043">o</tspan><tspan fill="#e86aaa">t</tspan><tspan fill="#1ea048">o</tspan><tspan fill="#ee5a24">r</tspan><tspan fill="#f4a52a">u</tspan><tspan fill="#f2c524">f</tspan></text>
<text x="1768" y="1519" style="font-family:'Liberation Serif',serif;font-size:20px;fill:#333">.de</text>
<line class="L" x1="166" y1="168" x2="72.5" y2="219.5"/>
<line class="L" x1="239" y1="166" x2="284" y2="227"/>
<line class="L" x1="649" y1="281" x2="726.5" y2="301"/>
<line class="L" x1="1055" y1="226" x2="1086" y2="415"/>
<line class="L" x1="1259" y1="157" x2="1185" y2="174"/>
<line class="L" x1="1271" y1="197.5" x2="1204" y2="234"/>
<line class="L" x1="1325.7" y1="53.3" x2="1249.3" y2="70.7"/>
<line class="L" x1="1372.5" y1="247.5" x2="1361" y2="367.5"/>
<line class="L" x1="1522.5" y1="214" x2="1503" y2="291"/>
<line class="L" x1="1611" y1="287.5" x2="1590" y2="364"/>
<line class="L" x1="1450" y1="506" x2="1297.5" y2="535"/>
<line class="L" x1="1447.5" y1="569.5" x2="1314" y2="597.5"/>
<line class="L" x1="342.5" y1="640" x2="436" y2="580"/>
<line class="L" x1="489" y1="679" x2="549.5" y2="657.5"/>
<line class="L" x1="682.5" y1="546.5" x2="630" y2="576.5"/>
<line class="L" x1="371" y1="930" x2="487.5" y2="925"/>
<line class="L" x1="179" y1="932.5" x2="244" y2="891"/>
<line class="L" x1="417.5" y1="1004" x2="485" y2="981"/>
<line class="L" x1="1001" y1="812.5" x2="1095" y2="787.5"/>
<line class="L" x1="646" y1="922.5" x2="675" y2="997.5"/>
<line class="L" x1="1638" y1="921.5" x2="1716.5" y2="943"/>
<line class="L" x1="1560" y1="954" x2="1649" y2="971.5"/>
<line class="L" x1="1401" y1="967.5" x2="1649" y2="977.7"/>
<line class="L" x1="1651" y1="991.5" x2="1570" y2="1080"/>
<line class="L" x1="1329" y1="1056" x2="1351" y2="1131"/>
<line class="L" x1="1190" y1="1142.5" x2="1269" y2="1182.5"/>
<line class="L" x1="1269" y1="1100" x2="1290" y2="1176"/>
<line class="L" x1="780" y1="1197.5" x2="798.75" y2="1272.5"/>
<line class="L" x1="316" y1="1264" x2="345.5" y2="1339"/>
<line class="L" x1="1586" y1="1257.5" x2="1615" y2="1336"/>
<text x="193.0" y="172.0">2</text>
<path class="G1" d="M754.4,295.5 L754.4,319.0 M754.4,296.3 Q751.4,300.5 747.0,302.5"/>
<text x="1040.5" y="209.5">3</text>
<text x="1340.0" y="61.0">4</text>
<text x="1277.0" y="160.0">5</text>
<text x="1287.0" y="202.0">6</text>
<text x="1368.0" y="235.0">7</text>
<text x="1525.0" y="202.5">8</text>
<text x="1612.0" y="272.5">9</text>
<text x="1462.0" y="512.5">6</text>
<text x="1465.5" y="579.0">5</text>
<text x="310.5" y="666.5">4</text>
<text x="454.0" y="691.0">6</text>
<text x="698.0" y="551.5">5</text>
<text x="339.0" y="945.0">6</text>
<text x="147.0" y="960.0">7</text>
<text x="388.0" y="1025.0">5</text>
<path class="G1" d="M963.9,810.5 L963.9,834.0 M963.9,811.3 Q960.9,815.5 956.5,817.5"/>
<text x="972.0" y="834.0">2</text>
<path class="G1" d="M636.9,880.5 L636.9,904.0 M636.9,881.3 Q633.9,885.5 629.5,887.5"/>
<text x="643.0" y="904.0">3</text>
<path class="G1" d="M1738.9,940.0 L1738.9,963.5 M1738.9,940.8 Q1735.9,945.0 1731.5,947.0"/>
<text x="1745.5" y="963.5">0</text>
<text x="1672.0" y="991.5">9</text>
<path class="G1" d="M1342.9,1145.5 L1342.9,1169.0 M1342.9,1146.3 Q1339.9,1150.5 1335.5,1152.5"/>
<text x="1350.5" y="1169.0">0</text>
<text x="1284.0" y="1217.5">9</text>
<text x="803.0" y="1311.0">9</text>
<path class="G1" d="M304.9,1229.0 L304.9,1252.5 M304.9,1229.8 Q301.9,1234.0 297.5,1236.0"/>
<text x="312.0" y="1252.5">4</text>
<path class="G1" d="M1576.9,1221.5 L1576.9,1245.0 M1576.9,1222.3 Q1573.9,1226.5 1569.5,1228.5"/>
<path class="G1" d="M1594.4,1221.5 L1594.4,1245.0 M1594.4,1222.3 Q1591.4,1226.5 1587.0,1228.5"/>
</svg></body></html>
